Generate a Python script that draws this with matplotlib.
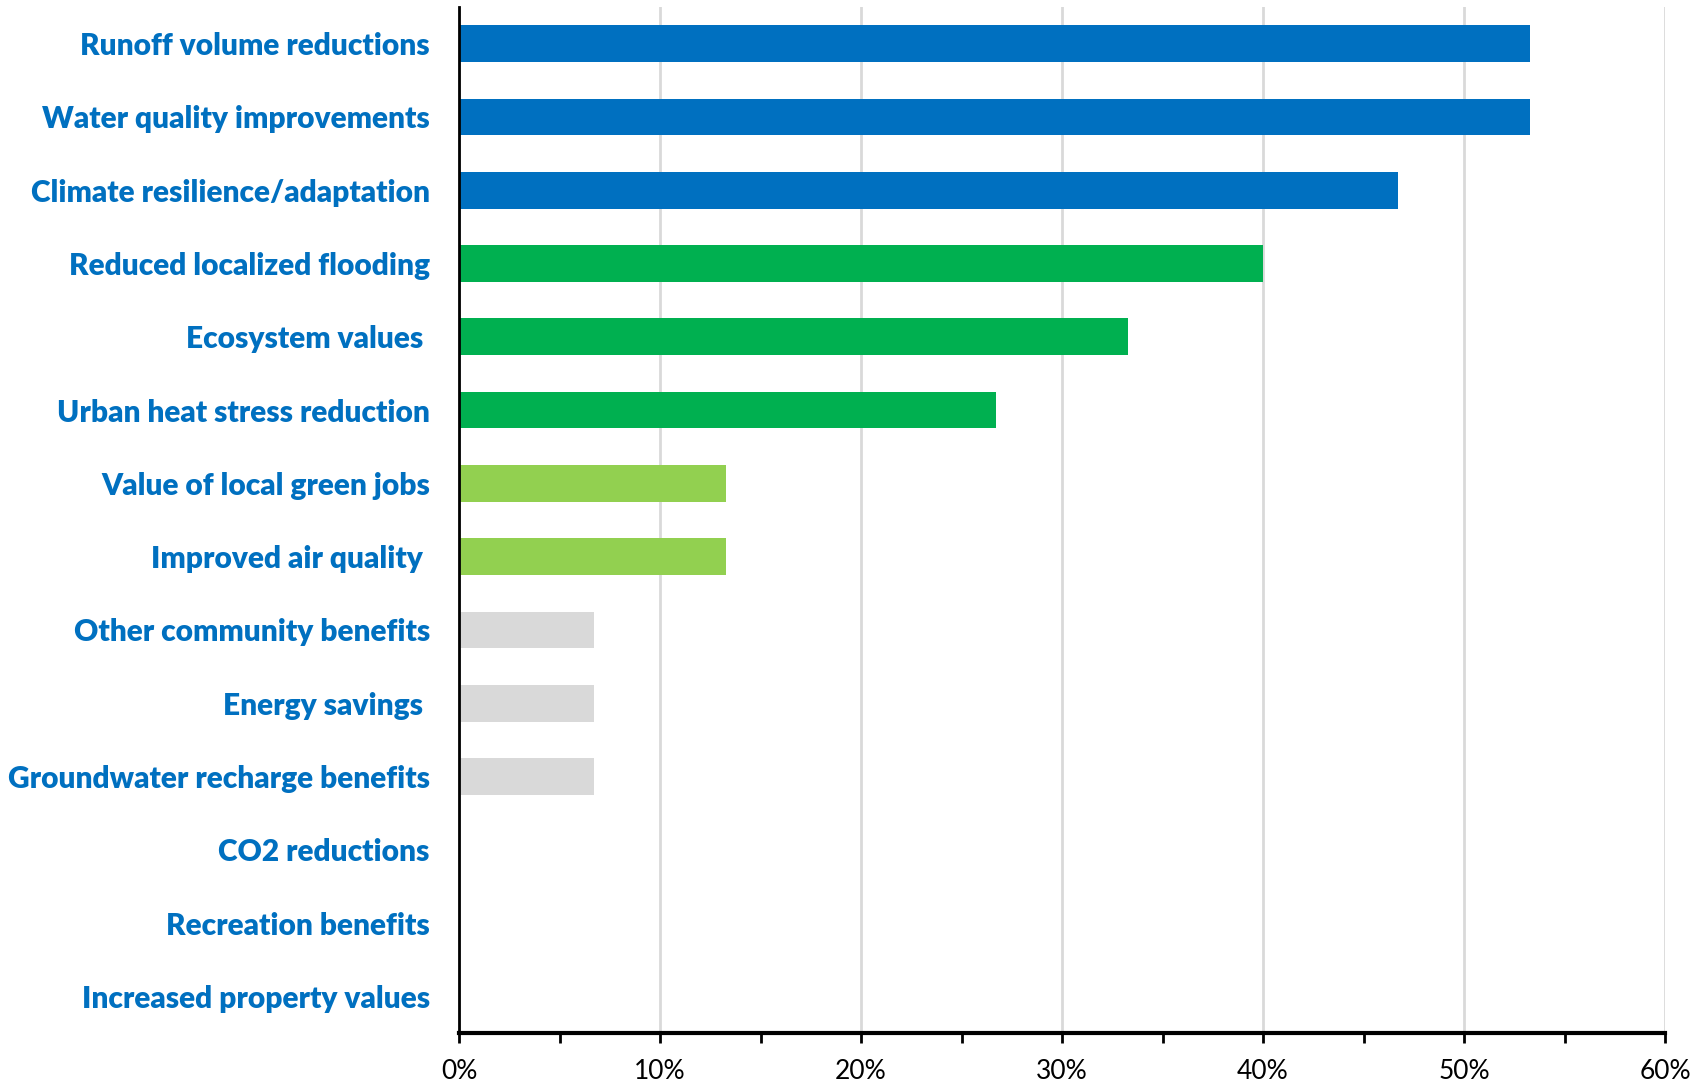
import matplotlib
matplotlib.use("Agg")
import matplotlib.pyplot as plt
from matplotlib.ticker import MultipleLocator, FuncFormatter

categories = [
    "Runoff volume reductions",
    "Water quality improvements",
    "Climate resilience/adaptation",
    "Reduced localized flooding",
    "Ecosystem values ",
    "Urban heat stress reduction",
    "Value of local green jobs",
    "Improved air quality ",
    "Other community benefits",
    "Energy savings ",
    "Groundwater recharge benefits",
    "CO2 reductions",
    "Recreation benefits",
    "Increased property values",
]
shares = [0.533, 0.533, 0.467, 0.400, 0.333, 0.267, 0.133, 0.133,
          0.067, 0.067, 0.067, 0.0, 0.0, 0.0]
tiers = ["top", "top", "top", "mid", "mid", "mid", "low", "low",
         "min", "min", "min", "min", "min", "min"]
tier_colors = {"top": "#0070C0", "mid": "#00B050", "low": "#92D050", "min": "#D9D9D9"}

fig = plt.figure(figsize=(17.03, 10.87), dpi=100)
ax = fig.add_axes([459 / 1703, 1 - 1033 / 1087, (1665 - 459) / 1703, (1033 - 7) / 1087])

ypos = list(range(len(categories)))
ax.barh(ypos, shares, height=0.5, color=[tier_colors[t] for t in tiers], zorder=3)

ax.set_ylim(len(categories) - 0.5, -0.5)
ax.set_xlim(0, 0.6)

ax.xaxis.set_major_locator(MultipleLocator(0.1))
ax.xaxis.set_minor_locator(MultipleLocator(0.05))
ax.xaxis.set_major_formatter(FuncFormatter(lambda v, _: f"{v * 100:.0f}%"))
ax.grid(axis="x", which="major", color="#D9D9D9", linewidth=2, zorder=0)

ax.set_yticks(ypos)
ax.set_yticklabels(categories, fontfamily="Lato", fontweight="heavy",
                   fontsize=21.5, color="#0070C0")
ax.tick_params(axis="y", length=0, pad=21)
ax.tick_params(axis="x", which="both", direction="out", length=7, width=2,
               color="black", labelsize=19, pad=12)
for lbl in ax.get_xticklabels():
    lbl.set_fontfamily("Lato")

for side in ("top", "right"):
    ax.spines[side].set_visible(False)
ax.spines["left"].set_linewidth(2)
ax.spines["bottom"].set_linewidth(3)
ax.spines["left"].set_zorder(4)
ax.spines["bottom"].set_zorder(4)

fig.savefig("out.png", dpi=100, facecolor="white")
